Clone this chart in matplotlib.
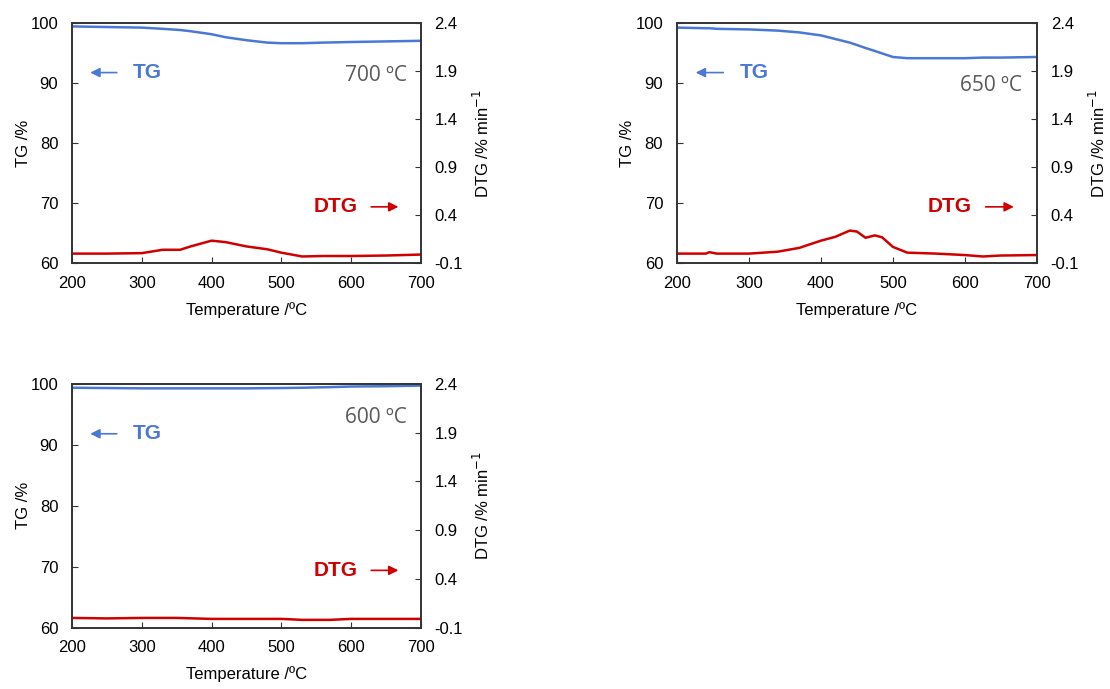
import matplotlib
matplotlib.use("Agg")
import matplotlib.pyplot as plt

plt.rcParams['font.family'] = ['Liberation Sans', 'DejaVu Sans']

# temperatures (°C) and readings taken off each panel
temp_700 = [200, 250, 300, 330, 355, 370, 400, 420, 450, 480, 500, 530, 560, 600, 650, 700]
tg_700 = [99.5, 99.4, 99.3, 99.1, 98.9, 98.7, 98.2, 97.7, 97.2, 96.8, 96.7, 96.7, 96.8, 96.9, 97.0, 97.1]
dtg_700 = [0.0, 0.0, 0.005, 0.04, 0.04, 0.075, 0.135, 0.12, 0.075, 0.045, 0.01, -0.03, -0.025, -0.025, -0.02, -0.01]

temp_650 = [200, 240, 245, 255, 300, 340, 370, 400, 420, 440, 450, 462, 475, 485, 500, 520, 560, 600, 625, 650, 700]
tg_650 = [99.3, 99.2, 99.2, 99.1, 99.0, 98.8, 98.5, 98.0, 97.4, 96.8, 96.4, 95.9, 95.4, 95.0, 94.4, 94.2, 94.2, 94.2, 94.3, 94.3, 94.4]
dtg_650 = [0.0, 0.0, 0.015, 0.0, 0.0, 0.02, 0.06, 0.135, 0.175, 0.24, 0.23, 0.165, 0.19, 0.17, 0.07, 0.01, 0.0, -0.015, -0.03, -0.02, -0.015]

temp_600 = [200, 250, 300, 350, 400, 450, 500, 530, 570, 600, 650, 700]
tg_600 = [99.35, 99.3, 99.25, 99.25, 99.25, 99.25, 99.3, 99.35, 99.45, 99.55, 99.6, 99.7]
dtg_600 = [0.0, -0.005, 0.0, 0.0, -0.01, -0.01, -0.01, -0.02, -0.02, -0.01, -0.01, -0.01]

panels = [
    ("700 ºC", temp_700, tg_700, dtg_700, [0.065, 0.618, 0.314, 0.348], 91.3),
    ("650 ºC", temp_650, tg_650, dtg_650, [0.610, 0.618, 0.324, 0.348], 89.6),
    ("600 ºC", temp_600, tg_600, dtg_600, [0.065, 0.089, 0.314, 0.354], 94.5),
]

blue = '#4A78D4'
red = '#D00000'

fig = plt.figure(figsize=(11.1, 6.89), dpi=100)

for label, t, tg, dtg, rect, label_y in panels:
    ax = fig.add_axes(rect)
    ax2 = ax.twinx()

    ax.plot(t, tg, color=blue, lw=1.8)
    ax2.plot(t, dtg, color=red, lw=1.8)

    ax.set_xlim(200, 700)
    ax.set_ylim(60, 100)
    ax2.set_ylim(-0.1, 2.4)
    ax.set_xticks([200, 300, 400, 500, 600, 700])
    ax.set_yticks([60, 70, 80, 90, 100])
    ax2.set_yticks([-0.1, 0.4, 0.9, 1.4, 1.9, 2.4])
    ax2.set_yticklabels(['-0.1', '0.4', '0.9', '1.4', '1.9', '2.4'])

    for a in (ax, ax2):
        a.tick_params(direction='in', labelsize=12, length=4, color='#333333', pad=10)
        for s in a.spines.values():
            s.set_color('#333333')
            s.set_linewidth(1.2)
    ax.tick_params(axis='x', pad=9)

    ax.set_xlabel('Temperature /ºC', fontsize=12, labelpad=8)
    ax.set_ylabel('TG /%', fontsize=12, labelpad=0)
    ax2.set_ylabel('DTG /% min$^{-1}$', fontsize=12, labelpad=6)

    # series tags with arrows pointing at their axes
    ax.text(287, 91.8, 'TG', color=blue, fontsize=15, fontweight='bold', va='center', ha='left')
    ax.annotate('', xy=(222, 91.8), xytext=(268, 91.8),
                arrowprops=dict(arrowstyle='-|>', color=blue, lw=1.2, mutation_scale=14))
    ax.text(610, 69.4, 'DTG', color=red, fontsize=15, fontweight='bold', va='center', ha='right')
    ax.annotate('', xy=(672, 69.4), xytext=(625, 69.4),
                arrowprops=dict(arrowstyle='-|>', color=red, lw=1.2, mutation_scale=14))

    ax.text(680, label_y, label, color='#595959', fontsize=15, ha='right', va='center',
            family=['Open Sans', 'DejaVu Sans'])

fig.savefig('out.png', dpi=100)
